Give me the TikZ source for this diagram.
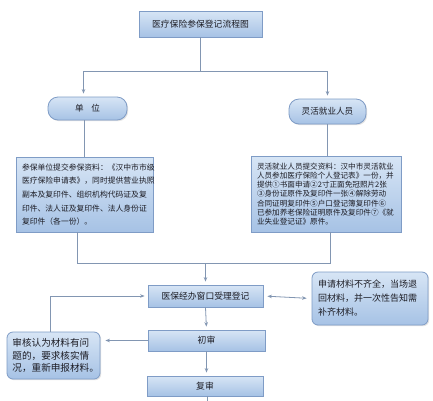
\documentclass[tikz,border=0pt]{standalone}
\usepackage{fontspec}
\newfontfamily\cjk{Noto Sans CJK SC}
\usetikzlibrary{arrows.meta,shadows}
\definecolor{boxtop}{HTML}{D7E5F5}
\definecolor{boxbot}{HTML}{A6C2E5}
\definecolor{boxline}{HTML}{7F9CC6}
\definecolor{conn}{HTML}{8296B2}
\definecolor{txt}{HTML}{1C1C24}
\tikzset{
  fbox/.style={draw=boxline, line width=0.8pt, top color=boxtop, bottom color=boxbot,
    text=txt, inner sep=0pt, align=center,
    drop shadow={opacity=0.22, shadow xshift=1.2pt, shadow yshift=-1.2pt}},
  pill/.style={fbox, rounded corners=10pt},
  rbox/.style={fbox, rounded corners=6pt},
  line/.style={draw=conn, line width=0.8pt},
  arr/.style={line, -{Stealth[length=4.5pt,width=3.5pt]}, shorten >=3pt},
  darr/.style={line, {Stealth[length=4.5pt,width=3.5pt]}-{Stealth[length=4.5pt,width=3.5pt]}, shorten >=5pt, shorten <=4pt}
}
\begin{document}
\begin{tikzpicture}[x=1pt,y=-1pt]
\useasboundingbox (0,0) rectangle (433,400);
\fill[white] (0,0) rectangle (433,400);

\node[fbox, minimum width=123pt, minimum height=26pt, font=\cjk\fontsize{8.8}{10}\selectfont] (title) at (200.5,24) {医疗保险参保登记流程图};

\node[pill, minimum width=79pt, minimum height=23pt, font=\cjk\fontsize{8.6}{10}\selectfont] (unit) at (87.5,108.5) {单\hspace{0.9em}位};
\node[pill, minimum width=77pt, minimum height=25pt, font=\cjk\fontsize{8.6}{10}\selectfont] (flex) at (327.5,111.5) {灵活就业人员};

\node[fbox, minimum width=137pt, minimum height=75pt, text width=125pt, align=left, font=\cjk\fontsize{7.8}{13.7}\selectfont] (leftbox) at (84.5,194.5) {参保单位提交参保资料：《汉中市市级\\医疗保险申请表》，同时提供营业执照\\副本及复印件、组织机构代码证及复\\印件、法人证及复印件、法人身份证\\复印件（各一份）。};

\node[fbox, minimum width=150pt, minimum height=76pt, text width=138pt, align=left, font=\cjk\fontsize{7.6}{9.1}\selectfont] (rightbox) at (326,194) {灵活就业人员提交资料：汉中市灵活就业\\人员参加医疗保险个人登记表》一份，并\\提供①书面申请②2寸正面免冠照片2张\\③身份证原件及复印件一张④解除劳动\\合同证明复印件⑤户口登记簿复印件⑥\\已参加养老保险证明原件及复印件⑦《就\\业失业登记证》原件。};

\node[fbox, minimum width=115pt, minimum height=22pt, font=\cjk\fontsize{8.8}{10}\selectfont] (accept) at (205.5,296) {医保经办窗口受理登记};

\node[rbox, minimum width=116pt, minimum height=53pt, text width=104pt, align=left, font=\cjk\fontsize{9}{14}\selectfont] (feedback) at (370,298.5) {申请材料不齐全，当场退\\回材料，并一次性告知需\\补齐材料。};

\node[rbox, minimum width=93pt, minimum height=47pt, text width=82pt, align=left, font=\cjk\fontsize{9.6}{12.8}\selectfont] (check) at (53.5,355.5) {审核认为材料有问\\题的，要求核实情\\况，重新申报材料。};

\node[fbox, minimum width=117pt, minimum height=21pt, font=\cjk\fontsize{8.8}{10}\selectfont] (first) at (206.5,340.5) {初审};

\node[fbox, minimum width=116pt, minimum height=20pt, font=\cjk\fontsize{8.8}{10}\selectfont] (second) at (205,386) {复审};

% connectors
\coordinate (j1) at (200.5,71);
\draw[line] (title.south) -- (j1);
\draw[arr] (j1) -| ([xshift=-4pt]unit.north);
\draw[arr] (j1) -| (flex.north);
\draw[line] ([xshift=-3.5pt]unit.south) -- ([xshift=-0.5pt]leftbox.north);
\draw[line] (flex.south) -- (flex.south |- rightbox.north);

\coordinate (j2) at (accept.north |- 0,263);
\draw[line] ([xshift=-7.5pt]leftbox.south) |- (j2);
\draw[line] ([xshift=4pt]rightbox.south) |- (j2);
\draw[arr] (j2) -- (accept.north);

\draw[darr] (accept.east) -- (feedback.west);
\draw[arr] ([xshift=-3.5pt]check.north) |- (accept.west);
\draw[arr] (accept.south) -- (first.north);
\draw[arr, shorten >=5pt] (first.west) -- (first.west -| check.east);
\draw[arr] (first.south) -- (first.south |- second.north);
\draw[line] ([xshift=2.5pt]second.south) -- ++(0,8);
\end{tikzpicture}
\end{document}
